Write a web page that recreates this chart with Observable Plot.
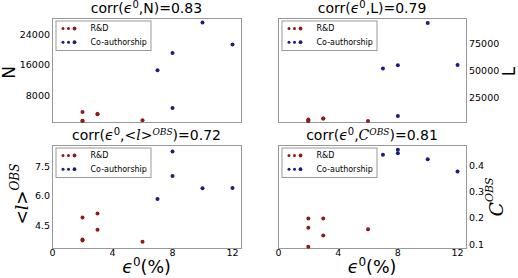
<!DOCTYPE html>
<html><head><meta charset="utf-8">
<script src="https://cdn.jsdelivr.net/npm/d3@7"></script>
<script src="https://cdn.jsdelivr.net/npm/@observablehq/plot@0.6"></script>
<style>
body{margin:0;background:#fff;}
#wrap{position:relative;width:518px;height:278px;overflow:hidden;font-family:'DejaVu Sans',sans-serif;background:#fff;}
#wrap svg{position:absolute;overflow:visible;}
</style></head><body><div id="wrap"></div>
<script>
// ---- data ----
const epsRD = [2, 2, 2, 3, 3, 6];
const epsCO = [7, 8, 8, 10, 12];
const nRD = [3830, 1490, 1550, 3310, 3250, 1670];
const nCO = [14700, 19200, 4870, 27130, 21400];
const lenRD = [5150, 3860, 3900, 6070, 6000, 3860];
const lenCO = [52000, 55060, 8460, 93900, 55330];
const pathRD = [4.92, 3.80, 3.75, 5.13, 4.30, 3.69];
const pathCO = [5.86, 8.26, 7.03, 6.40, 6.42];
const clusRD = [0.164, 0.200, 0.092, 0.200, 0.135, 0.159];
const clusCO = [0.444, 0.463, 0.449, 0.426, 0.380];
const xTicks = [0, 4, 8, 12];
const nTicks = [8000, 16000, 24000];
const lenTicks = [25000, 50000, 75000];
const pathTicks = [4.5, 6.0, 7.5];
const clusTicks = [0.1, 0.2, 0.3, 0.4];
const seriesNames = ["R&D", "Co-authorship"];
const seriesColors = ["#8b1c1c", "#1c1c7e"];
const corrs = ["0.83", "0.79", "0.72", "0.81"];

const W = 259, H = 139;
const wrap = document.getElementById("wrap");

function panel({rd, co, yDomain, yTicks, yFormat, side, showX, left, top, mt, mb}) {
  const ml = side === "left" ? 52 : 19;
  const mr = side === "left" ? 18 : 52;
  const rows = [
    ...epsRD.map((e, i) => ({e, v: rd[i], s: seriesNames[0]})),
    ...epsCO.map((e, i) => ({e, v: co[i], s: seriesNames[1]}))
  ];
  const svg = Plot.plot({
    width: W, height: H,
    marginLeft: ml, marginRight: mr, marginTop: mt, marginBottom: mb,
    style: {fontSize: "9.5px", fontFamily: "DejaVu Sans", color: "#000", background: "transparent"},
    x: {domain: [0, 12.6], axis: null},
    y: {domain: yDomain, axis: null},
    color: {domain: seriesNames, range: seriesColors},
    marks: [
      Plot.frame({stroke: "#999", strokeWidth: 1}),
      Plot.axisY(yTicks, {anchor: side, tickSize: 0, tickPadding: 2.5, label: null, tickFormat: yFormat, fontSize: 9.5}),
      showX ? Plot.axisX(xTicks, {anchor: "bottom", tickSize: 0, tickPadding: 1, label: null, fontSize: 9.5}) : null,
      Plot.dot(rows, {x: "e", y: "v", fill: "s", r: 2})
    ]
  });
  svg.style.left = left + "px";
  svg.style.top = top + "px";
  wrap.appendChild(svg);
  return {fx: left + ml, fy: top + mt, fw: W - ml - mr};
}

const p1 = panel({rd: nRD, co: nCO, yDomain: [1070, 28170], yTicks: nTicks, yFormat: d3.format("d"), side: "left", showX: false, left: 0, top: 0, mt: 18, mb: 17});
const p2 = panel({rd: lenRD, co: lenCO, yDomain: [2400, 98000], yTicks: lenTicks, yFormat: d3.format("d"), side: "right", showX: false, left: 259, top: 0, mt: 18, mb: 17});
const p3 = panel({rd: pathRD, co: pathCO, yDomain: [3.35, 8.57], yTicks: pathTicks, yFormat: d3.format(".1f"), side: "left", showX: true, left: 0, top: 139, mt: 6, mb: 30});
const p4 = panel({rd: clusRD, co: clusCO, yDomain: [0.085, 0.479], yTicks: clusTicks, yFormat: d3.format(".1f"), side: "right", showX: true, left: 259, top: 139, mt: 6, mb: 30});

// ---- overlay: titles, axis labels, legends ----
const ov = d3.select(wrap).append("svg")
  .attr("width", 518).attr("height", 278)
  .style("left", "0px").style("top", "0px")
  .attr("font-family", "DejaVu Sans");

function title(p, y, parts) {
  const t = ov.append("text").attr("x", p.fx + p.fw / 2).attr("y", y)
    .attr("text-anchor", "middle").attr("font-size", 14).attr("fill", "#000");
  parts.forEach(([s, opt]) => {
    const ts = t.append("tspan").text(s);
    if (opt) Object.entries(opt).forEach(([k, v]) => ts.attr(k, v));
  });
}
const eps = [["corr("], ["ϵ", {"font-style": "italic"}], ["0", {"font-size": 10, dy: -5}], [",", {dy: 5}]];
title(p1, 13, [...eps, ["N)=" + corrs[0]]]);
title(p2, 13, [...eps, ["L)=" + corrs[1]]]);
title(p3, 139.5, [...eps, ["<"], ["l", {"font-style": "italic", "font-family": "DejaVu Serif"}], [">"],
  ["OBS", {"font-size": 9, dy: -5, "font-style": "italic", "font-family": "DejaVu Serif"}], [")=" + corrs[2], {dy: 5}]]);
title(p4, 139.5, [...eps, ["C", {"font-style": "italic", "font-family": "DejaVu Serif"}],
  ["OBS", {"font-size": 9, dy: -5, "font-style": "italic", "font-family": "DejaVu Serif"}], [")=" + corrs[3], {dy: 5}]]);

// x labels
[p3, p4].forEach(p => {
  const t = ov.append("text").attr("x", p.fx + p.fw / 2).attr("y", 273)
    .attr("text-anchor", "middle").attr("font-size", 17.5);
  t.append("tspan").text("ϵ").attr("font-style", "italic");
  t.append("tspan").text("0").attr("font-size", 12).attr("dy", -7);
  t.append("tspan").text("(%)").attr("dy", 7);
});

// y labels (rotated)
function ylab(x, y, parts, size) {
  const t = ov.append("text").attr("transform", `translate(${x},${y}) rotate(-90)`)
    .attr("text-anchor", "middle").attr("font-size", size);
  parts.forEach(([s, opt]) => {
    const ts = t.append("tspan").text(s);
    if (opt) Object.entries(opt).forEach(([k, v]) => ts.attr(k, v));
  });
}
ylab(15, 72.5, [["N"]], 17);
ylab(515, 71.5, [["L"]], 17);
ylab(27.5, 194, [["<"], ["l", {"font-style": "italic", "font-family": "DejaVu Serif"}], [">"],
  ["OBS", {"font-size": 12, dy: -9, "font-style": "italic", "font-family": "DejaVu Serif"}]], 17);
ylab(503, 197, [["C", {"font-style": "italic", "font-family": "DejaVu Serif"}],
  ["OBS", {"font-size": 11, dy: -10, "font-style": "italic", "font-family": "DejaVu Serif"}]], 19);

// legends
[p1, p2, p3, p4].forEach(p => {
  const g = ov.append("g").attr("transform", `translate(${p.fx + 4},${p.fy + 3})`);
  g.append("rect").attr("width", 95).attr("height", 29.5).attr("fill", "#fff").attr("stroke", "#999").attr("stroke-width", 1);
  seriesNames.forEach((name, i) => {
    const cy = 7.5 + i * 13.7;
    [[7, 1.5], [12.5, 1.5], [18.5, 1.9]].forEach(([cx, r]) =>
      g.append("circle").attr("cx", cx).attr("cy", cy).attr("r", r).attr("fill", seriesColors[i]));
    g.append("text").attr("x", 34.5).attr("y", cy).attr("dy", "0.35em").attr("font-size", 8).text(name);
  });
});
</script></body></html>
